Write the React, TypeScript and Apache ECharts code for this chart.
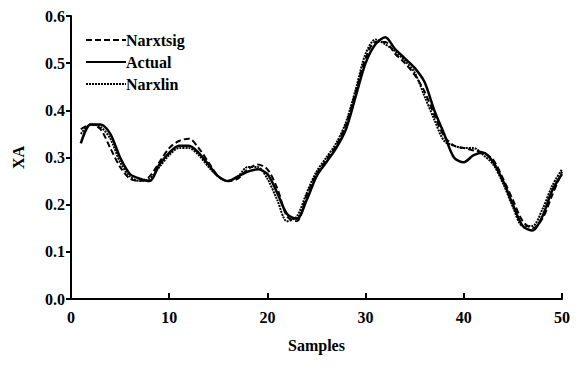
import React, { useEffect, useRef } from "react";
import * as echarts from "echarts";

const samples: number[] = Array.from({ length: 50 }, (_, i) => i + 1);

const narxtsig: number[] = [
  0.36, 0.37, 0.36, 0.32, 0.28, 0.255, 0.25, 0.26, 0.29, 0.32,
  0.335, 0.34, 0.32, 0.29, 0.26, 0.25, 0.255, 0.275, 0.285, 0.275,
  0.235, 0.175, 0.165, 0.22, 0.265, 0.295, 0.325, 0.37, 0.44, 0.51,
  0.545, 0.545, 0.52, 0.5, 0.475, 0.44, 0.39, 0.345, 0.325, 0.32,
  0.315, 0.31, 0.295, 0.255, 0.21, 0.165, 0.15, 0.17, 0.22, 0.27,
];

const actual: number[] = [
  0.33, 0.37, 0.37, 0.35, 0.3, 0.265, 0.255, 0.25, 0.285, 0.31,
  0.325, 0.325, 0.31, 0.285, 0.26, 0.25, 0.26, 0.27, 0.275, 0.265,
  0.225, 0.18, 0.17, 0.21, 0.26, 0.29, 0.32, 0.36, 0.43, 0.5,
  0.54, 0.555, 0.53, 0.51, 0.49, 0.46, 0.4, 0.35, 0.3, 0.29,
  0.305, 0.31, 0.29, 0.25, 0.2, 0.155, 0.145, 0.175, 0.23, 0.265,
];

const narxlin: number[] = [
  0.35, 0.37, 0.365, 0.34, 0.29, 0.26, 0.25, 0.255, 0.28, 0.305,
  0.32, 0.32, 0.305, 0.28, 0.26, 0.25, 0.26, 0.28, 0.28, 0.255,
  0.21, 0.165, 0.175, 0.225, 0.27, 0.3, 0.33, 0.375, 0.445, 0.52,
  0.55, 0.54, 0.525, 0.505, 0.48, 0.43, 0.38, 0.335, 0.325, 0.32,
  0.32, 0.305, 0.285, 0.245, 0.195, 0.155, 0.155, 0.19, 0.24, 0.275,
];

const FONT = "Liberation Serif";

function pairs(ys: number[]): number[][] {
  return samples.map((x, i) => [x, ys[i]]);
}

export default function App() {
  const ref = useRef<HTMLDivElement>(null);
  useEffect(() => {
    if (!ref.current) return;
    const chart = echarts.init(ref.current, undefined, { renderer: "svg" });
    const lineBase = { type: "line", symbol: "none", smooth: 0.3, z: 3 };
    chart.setOption({
      animation: false,
      backgroundColor: "#ffffff",
      textStyle: { fontFamily: FONT },
      grid: { left: 71, right: 22, top: 16, bottom: 72, containLabel: false },
      legend: {
        orient: "vertical",
        left: 80,
        top: 27,
        itemWidth: 40,
        itemHeight: 10,
        itemGap: 6,
        itemStyle: { opacity: 0 },
        textStyle: { fontFamily: FONT, fontSize: 16, fontWeight: "bold", color: "#000", padding: [0, 0, 0, -5] },
        data: ["Narxtsig", "Actual", "Narxlin"],
      },
      xAxis: {
        type: "value",
        min: 0,
        max: 50,
        interval: 10,
        name: "Samples",
        nameLocation: "middle",
        nameGap: 38,
        nameTextStyle: { fontFamily: FONT, fontSize: 16, fontWeight: "bold", color: "#000" },
        axisLine: { onZero: false, lineStyle: { color: "#000", width: 2 } },
        axisTick: { inside: true, length: 6, lineStyle: { color: "#000", width: 2 } },
        axisLabel: { fontFamily: FONT, fontSize: 16, fontWeight: "bold", color: "#000", margin: 10 },
        splitLine: { show: false },
      },
      yAxis: {
        type: "value",
        min: 0,
        max: 0.6,
        interval: 0.1,
        name: "XA",
        nameLocation: "middle",
        nameGap: 45,
        nameTextStyle: { fontFamily: FONT, fontSize: 16, fontWeight: "bold", color: "#000" },
        axisLine: { show: true, lineStyle: { color: "#000", width: 2 } },
        axisTick: { show: true, inside: false, length: 5, lineStyle: { color: "#000", width: 2 } },
        axisLabel: {
          fontFamily: FONT,
          fontSize: 16,
          fontWeight: "bold",
          color: "#000",
          margin: 6,
          formatter: (v: number) => v.toFixed(1),
        },
        splitLine: { show: false },
      },
      series: [
        {
          ...lineBase,
          name: "Narxtsig",
          data: pairs(narxtsig),
          lineStyle: { color: "#000", width: 2, type: [6, 3] },
          itemStyle: { color: "#000" },
        },
        {
          ...lineBase,
          name: "Actual",
          data: pairs(actual),
          lineStyle: { color: "#000", width: 2.5, type: "solid" },
          itemStyle: { color: "#000" },
        },
        {
          ...lineBase,
          name: "Narxlin",
          data: pairs(narxlin),
          lineStyle: { color: "#000", width: 2, type: [2, 1] },
          itemStyle: { color: "#000" },
        },
      ],
    });
    return () => chart.dispose();
  }, []);
  return <div ref={ref} style={{ width: 584, height: 371, margin: -8 }} />;
}
